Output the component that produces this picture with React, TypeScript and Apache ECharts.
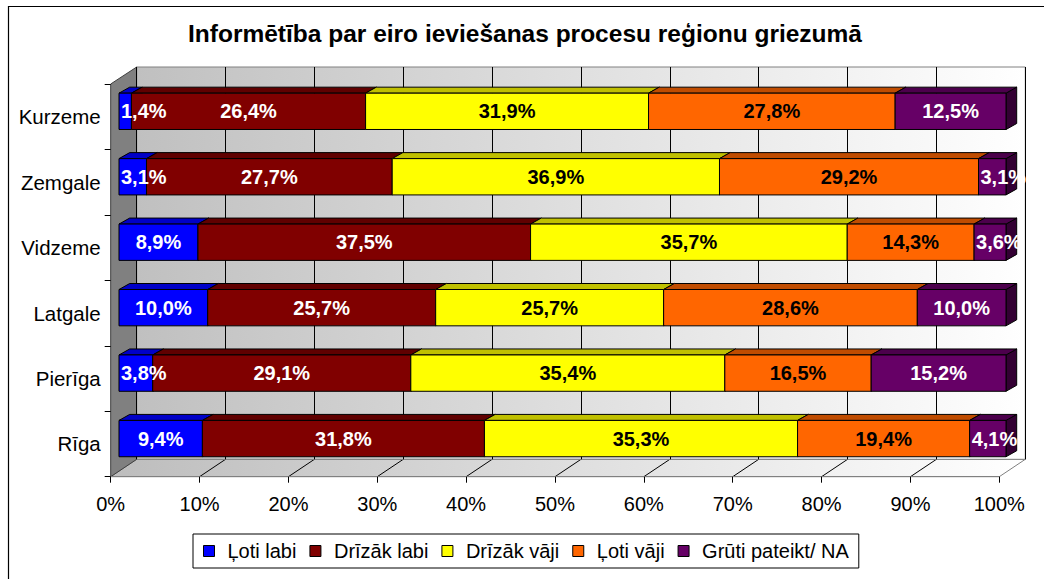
import React, { useEffect, useRef } from "react";
import * as echarts from "echarts";

const categories = ["Kurzeme", "Zemgale", "Vidzeme", "Latgale", "Pierīga", "Rīga"];
const seriesNames = ["Ļoti labi", "Drīzāk labi", "Drīzāk vāji", "Ļoti vāji", "Grūti pateikt/ NA"];
const lotiLabi = [1.4, 3.1, 8.9, 10.0, 3.8, 9.4];
const drizakLabi = [26.4, 27.7, 37.5, 25.7, 29.1, 31.8];
const drizakVaji = [31.9, 36.9, 35.7, 25.7, 35.4, 35.3];
const lotiVaji = [27.8, 29.2, 14.3, 28.6, 16.5, 19.4];
const gruti = [12.5, 3.1, 3.6, 10.0, 15.2, 4.1];
const seriesValues = [lotiLabi, drizakLabi, drizakVaji, lotiVaji, gruti];

const faceColors = ["#0000FF", "#800000", "#FFFF00", "#FF6600", "#660066"];
const topColors = ["#0000C8", "#600000", "#C0C000", "#C04C00", "#4C004C"];
const sideColors = ["#000090", "#400000", "#808000", "#803300", "#330033"];
const labelColors = ["#ffffff", "#ffffff", "#000000", "#000000", "#ffffff"];

const FONT = '"Liberation Sans", Arial, sans-serif';
const DX = 10.7;
const DY = 6;

// layout (page px)
const FRONT = { left: 110.7, top: 84, width: 888.6, height: 392.7 };
const BACK = { left: 136.7, top: 67, width: 888.6, height: 392.3 };
const BARS = { left: 119, top: 78.6, width: 887, height: 392.7 };

let measureCtx: CanvasRenderingContext2D | null = null;
function textWidth(t: string, font: string) {
  if (!measureCtx) measureCtx = document.createElement("canvas").getContext("2d");
  if (!measureCtx) return t.length * 11;
  measureCtx.font = font;
  return measureCtx.measureText(t).width;
}

function fmt(v: number) {
  return v.toFixed(1).replace(".", ",") + "%";
}

export default function App() {
  const ref = useRef<HTMLDivElement>(null);
  useEffect(() => {
    if (!ref.current) return;
    const chart = echarts.init(ref.current, null, { renderer: "svg" });

    // cumulative starts
    const starts: number[][] = seriesValues.map(() => categories.map(() => 0));
    categories.forEach((_, c) => {
      let acc = 0;
      seriesValues.forEach((vals, s) => {
        starts[s][c] = acc;
        acc += vals[c];
      });
    });

    const barSeries = seriesValues.map((vals, s) => ({
      type: "custom",
      name: seriesNames[s],
      xAxisIndex: 0,
      yAxisIndex: 0,
      z: 2,
      itemStyle: { color: faceColors[s], borderColor: "#000", borderWidth: 1 },
      encode: { x: [0, 1], y: 2 },
      data: vals.map((v, c) => [starts[s][c], starts[s][c] + v, c]),
      renderItem: (params: any, api: any) => {
        const a = api.coord([api.value(0), api.value(2)]);
        const b = api.coord([api.value(1), api.value(2)]);
        const h = api.size([0, 1])[1] * 0.555;
        const x0 = a[0];
        const x1 = b[0];
        const top = a[1] - h / 2;
        const bot = a[1] + h / 2;
        const stroke = { stroke: "#000", lineWidth: 1 };
        return {
          type: "group",
          children: [
            {
              type: "polygon",
              shape: { points: [[x1, top], [x1 + DX, top - DY], [x1 + DX, bot - DY], [x1, bot]] },
              style: { fill: sideColors[s], ...stroke },
            },
            {
              type: "polygon",
              shape: { points: [[x0, top], [x0 + DX, top - DY], [x1 + DX, top - DY], [x1, top]] },
              style: { fill: topColors[s], ...stroke },
            },
            {
              type: "rect",
              shape: { x: x0, y: top, width: x1 - x0, height: h },
              style: { fill: faceColors[s], ...stroke },
            },
          ],
        };
      },
    }));

    const labelData: number[][] = [];
    seriesValues.forEach((vals, s) => {
      vals.forEach((v, c) => {
        labelData.push([starts[s][c], starts[s][c] + v, c, s, v]);
      });
    });
    const labelFont = `bold 20px ${FONT}`;
    const labelSeries = {
      type: "custom",
      name: "labels",
      xAxisIndex: 0,
      yAxisIndex: 0,
      z: 5,
      encode: { x: [0, 1], y: 2 },
      data: labelData,
      renderItem: (params: any, api: any) => {
        const a = api.coord([api.value(0), api.value(2)]);
        const b = api.coord([api.value(1), api.value(2)]);
        const s = api.value(3);
        const txt = fmt(api.value(4));
        const tw = textWidth(txt, labelFont);
        let cx = (a[0] + b[0]) / 2;
        cx = Math.max(cx, a[0] + 2 + tw / 2);
        return {
          type: "text",
          style: {
            text: txt,
            x: cx,
            y: a[1],
            fill: labelColors[s],
            font: labelFont,
            align: "center",
            verticalAlign: "middle",
          },
        };
      },
    };

    const grad = new echarts.graphic.LinearGradient(0, 0, 1, 0, [
      { offset: 0, color: "#c0c0c0" },
      { offset: 1, color: "#ffffff" },
    ]);
    const floorGrad = new echarts.graphic.LinearGradient(0, 0, 1, 0, [
      { offset: 0, color: "#bdbdbd" },
      { offset: 1, color: "#ffffff" },
    ]);

    const fl = FRONT.left, fb = FRONT.top + FRONT.height;
    const bl = BACK.left, bb = BACK.top + BACK.height;
    const step = FRONT.width / 10;
    const floorLines: any[] = [];
    for (let i = 1; i <= 9; i++) {
      floorLines.push({
        type: "line",
        z: -1,
        shape: { x1: fl + step * i, y1: fb, x2: bl + step * i, y2: bb },
        style: { stroke: "#000", lineWidth: 1 },
      });
    }

    const option: any = {
      animation: false,
      title: {
        text: "Informētība par eiro ieviešanas procesu reģionu griezumā",
        left: 525,
        top: 21,
        textAlign: "center",
        padding: 0,
        textStyle: { fontFamily: FONT, fontSize: 24.5, fontWeight: "bold", color: "#000" },
      },
      legend: {
        data: seriesNames,
        left: 193,
        top: 534,
        orient: "horizontal",
        itemWidth: 11,
        itemHeight: 11,
        itemGap: 13,
        padding: [7, 10, 7, 10],
        borderColor: "#000",
        borderWidth: 1,
        backgroundColor: "#fff",
        icon: "rect",
        itemStyle: { borderColor: "#000", borderWidth: 1 },
        textStyle: { fontFamily: FONT, fontSize: 20, color: "#000", lineHeight: 20, padding: [0, 0, 0, 8] },
      },
      grid: [
        { ...BARS, containLabel: false },
        { ...FRONT, containLabel: false },
        {
          ...BACK,
          containLabel: false,
          show: true,
          backgroundColor: grad,
          borderColor: "#808080",
          borderWidth: 1,
        },
      ],
      xAxis: [
        { gridIndex: 0, type: "value", min: 0, max: 100, show: false },
        {
          gridIndex: 1,
          type: "value",
          min: 0,
          max: 100,
          interval: 10,
          axisLine: { show: true, lineStyle: { color: "#808080", width: 1 } },
          axisTick: { show: true, length: 6, lineStyle: { color: "#000" } },
          splitLine: { show: false },
          axisLabel: {
            formatter: "{value}%",
            margin: 17,
            fontFamily: FONT,
            fontSize: 20,
            color: "#000",
          },
        },
        {
          gridIndex: 2,
          type: "value",
          min: 0,
          max: 100,
          interval: 10,
          axisLine: { show: false },
          axisTick: { show: false },
          axisLabel: { show: false },
          splitLine: { show: true, lineStyle: { color: "#000", width: 1 } },
        },
      ],
      yAxis: [
        { gridIndex: 0, type: "category", data: categories, inverse: true, show: false },
        {
          gridIndex: 1,
          type: "category",
          data: categories,
          inverse: true,
          axisLine: { show: false },
          axisTick: { show: true, length: 6, lineStyle: { color: "#000" } },
          axisLabel: { margin: 10, fontFamily: FONT, fontSize: 20.5, color: "#000" },
        },
        { gridIndex: 2, type: "category", data: categories, inverse: true, show: false },
      ],
      graphic: [
        {
          type: "rect",
          z: -2,
          shape: { x: 8.5, y: 6.5, width: 1100, height: 620 },
          style: { fill: "#fff", stroke: "#000", lineWidth: 1.2 },
        },
        {
          type: "polygon",
          z: -1,
          shape: { points: [[fl, fb], [bl, bb], [bl + BACK.width, bb], [fl + FRONT.width, fb]] },
          style: { fill: floorGrad, stroke: "#808080", lineWidth: 1 },
        },
        {
          type: "polygon",
          z: -1,
          shape: { points: [[fl, FRONT.top], [bl, BACK.top], [bl, bb], [fl, fb]] },
          style: { fill: "#808080", stroke: "#404040", lineWidth: 1 },
        },
        ...floorLines,
      ],
      series: [...barSeries, labelSeries],
    };
    chart.setOption(option);
    return () => chart.dispose();
  }, []);
  return (
    <div
      ref={ref}
      style={{ position: "absolute", left: 0, top: 0, width: 1044, height: 579 }}
    />
  );
}
